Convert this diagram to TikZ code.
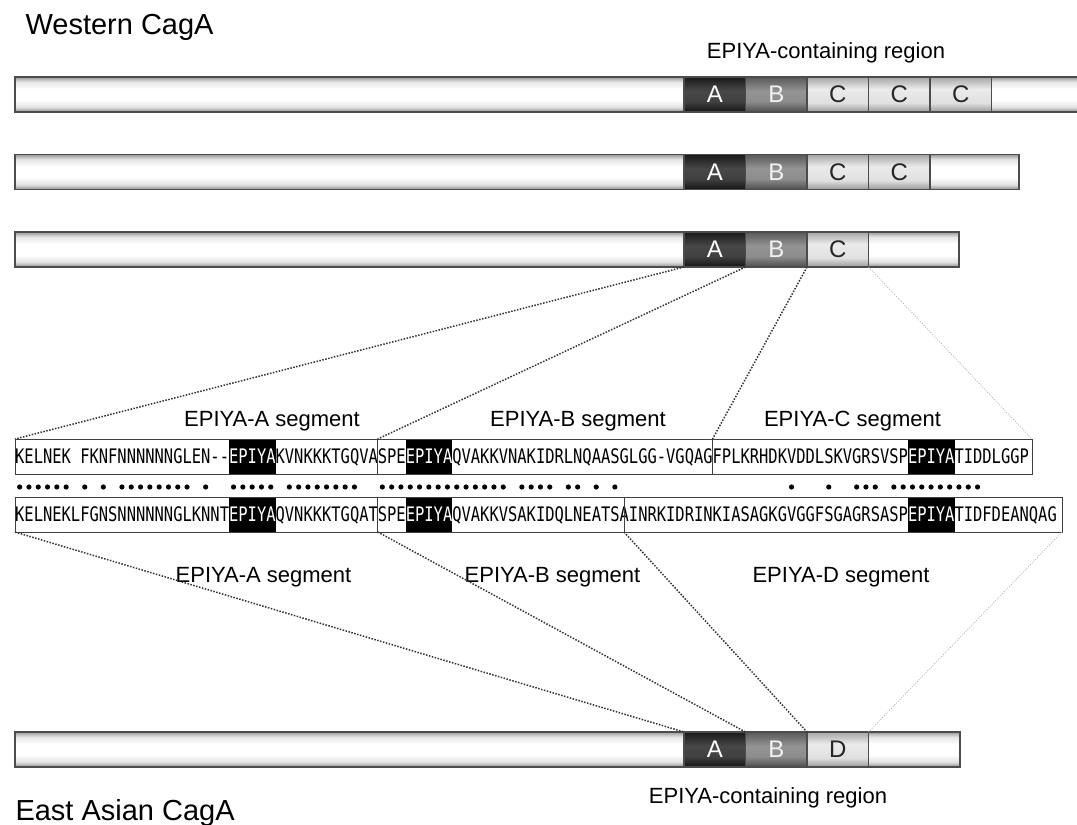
\documentclass[tikz,border=0pt]{standalone}
\usepackage{fontspec}
\setmainfont{Liberation Sans}
\newfontfamily\seqfont[FakeStretch=0.7724]{DejaVu Sans Mono}
\pgfdeclareverticalshading{bodyshade}{100bp}{color(0bp)=(black!45); color(25bp)=(black!45); color(32bp)=(black!12);
    color(42bp)=(white); color(58bp)=(white); color(68bp)=(black!10); color(75bp)=(black!40); color(100bp)=(black!40)}
\pgfdeclareverticalshading{Ashade}{100bp}{color(0bp)=(black!92); color(25bp)=(black!92); color(40bp)=(black!75);
    color(55bp)=(black!72); color(75bp)=(black!90); color(100bp)=(black!90)}
\pgfdeclareverticalshading{Bshade}{100bp}{color(0bp)=(black!70); color(25bp)=(black!70); color(40bp)=(black!45);
    color(55bp)=(black!42); color(75bp)=(black!65); color(100bp)=(black!65)}
\pgfdeclareverticalshading{Cshade}{100bp}{color(0bp)=(black!40); color(25bp)=(black!40); color(38bp)=(black!12);
    color(58bp)=(black!8); color(75bp)=(black!35); color(100bp)=(black!35)}
\tikzset{
    bar/.style={draw=black!70, line width=1.2pt, inner sep=0pt, outer sep=0pt, minimum height=35pt, anchor=west,
        shading=bodyshade},
    domA/.style={bar, minimum width=61.5pt, shading=Ashade, text=white, font=\fontsize{24}{26}\selectfont},
    domB/.style={domA, shading=Bshade, text=black!5},
    domC/.style={domA, shading=Cshade, text=black!85},
    seqbox/.style={draw=black!75, line width=1pt, inner sep=0pt, outer sep=0pt, minimum height=35pt, anchor=west},
    seqtxt/.style={inner sep=0pt, anchor=west, text height=14.5pt, text depth=0pt,
        font=\seqfont\fontsize{20}{20}\selectfont},
    epiya/.style={seqtxt, fill=black, text=white, minimum height=35pt},
    lbl/.style={anchor=base, font=\fontsize{22}{26}\selectfont},
    title/.style={anchor=base west, font=\fontsize{29}{34}\selectfont},
    link/.style={draw=black!80, line width=1.5pt, dash pattern=on 1.5pt off 1.5pt},
    faint/.style={draw=black!30, line width=0.8pt, dash pattern=on 1pt off 1.5pt}
}
\begin{document}
\begin{tikzpicture}[x=1pt, y=-1pt]
        \useasboundingbox (0,0) rectangle (1077,825);
        \node[title] (wtitle) at (22,34) {Western CagA};
        \node[lbl] (wregion) at (826,58) {EPIYA-containing region};

        \node[bar, minimum width=1066pt] (w1) at (15,94.5) {};
        \node[domA] (w1A) at (684,94.5) {A};
        \node[domB] (w1B) at (745.5,94.5) {B};
        \foreach \k/\x in {1/807, 2/868.5, 3/930}
            \node[domC] (w1C\k) at (\x,94.5) {C};

        \node[bar, minimum width=1004pt] (w2) at (15,172) {};
        \node[domA] (w2A) at (684,172) {A};
        \node[domB] (w2B) at (745.5,172) {B};
        \foreach \k/\x in {1/807, 2/868.5}
            \node[domC] (w2C\k) at (\x,172) {C};

        \node[bar, minimum width=944pt] (w3) at (15,249.5) {};
        \node[domA] (w3A) at (684,249.5) {A};
        \node[domB] (w3B) at (745.5,249.5) {B};
        \node[domC] (w3C) at (807,249.5) {C};

        \node[lbl] (tlA) at (272,426) {EPIYA-A segment};
        \node[lbl] (tlB) at (578,426) {EPIYA-B segment};
        \node[lbl] (tlC) at (852.5,426) {EPIYA-C segment};

        \node[seqtxt] (t0) at ({15+9.3*0},456.5) {KELNEK};
        \node[seqtxt] (t1) at ({15+9.3*7},456.5) {FKNFNNNNNNGLEN\mbox{-}\mbox{-}};
        \node[epiya] (tEa) at ({15+9.3*23},456.5) {EPIYA};
        \node[seqtxt] (t2) at ({15+9.3*28},456.5) {KVNKKKTGQVASPE};
        \node[epiya] (tEb) at ({15+9.3*42},456.5) {EPIYA};
        \node[seqtxt] (t3) at ({15+9.3*47},456.5) {QVAKKVNAKIDRLNQAASGLGG-VGQAGFPLKRHDKVDDLSKVGRSVSP};
        \node[epiya] (tEc) at ({15+9.3*96},456.5) {EPIYA};
        \node[seqtxt] (t4) at ({15+9.3*101},456.5) {TIDDLGGP};
        \node[seqbox, minimum width=362.7pt] (ta) at (15,456.5) {};
        \node[seqbox, minimum width=334.8pt] (tb) at (377.7,456.5) {};
        \node[seqbox, minimum width=319.5pt] (tc) at (712.5,456.5) {};

        \foreach \i in {0,1,...,5,7,9,11,12,...,18,20,23,24,...,27,29,30,...,36,39,40,...,52,54,55,56,57,59,60,62,64,83,87,90,91,92,94,95,...,103}
            \fill ({15+9.3*\i+4.65},487) circle (2.6);

        \node[seqtxt] (b0) at ({15+9.3*0},514.5) {KELNEKLFGNSNNNNNNGLKNNT};
        \node[epiya] (bEa) at ({15+9.3*23},514.5) {EPIYA};
        \node[seqtxt] (b1) at ({15+9.3*28},514.5) {QVNKKKTGQATSPE};
        \node[epiya] (bEb) at ({15+9.3*42},514.5) {EPIYA};
        \node[seqtxt] (b2) at ({15+9.3*47},514.5) {QVAKKVSAKIDQLNEATSAINRKIDRINKIASAGKGVGGFSGAGRSASP};
        \node[epiya] (bEd) at ({15+9.3*96},514.5) {EPIYA};
        \node[seqtxt] (b3) at ({15+9.3*101},514.5) {TIDFDEANQAG};
        \node[seqbox, minimum width=362.7pt] (ba) at (15,514.5) {};
        \node[seqbox, minimum width=246.3pt] (bb) at (377.7,514.5) {};
        \node[seqbox, minimum width=438pt] (bc) at (624,514.5) {};

        \node[lbl] (blA) at (263.5,582) {EPIYA-A segment};
        \node[lbl] (blB) at (552.5,582) {EPIYA-B segment};
        \node[lbl] (blD) at (841,582) {EPIYA-D segment};

        \node[bar, minimum width=945pt] (e) at (15,749.5) {};
        \node[domA] (eA) at (684,749.5) {A};
        \node[domB] (eB) at (745.5,749.5) {B};
        \node[domC] (eD) at (807,749.5) {D};

        \node[lbl] (eregion) at (768,803) {EPIYA-containing region};
        \node[title] (etitle) at (12,820) {East Asian CagA};

        \draw[link] (w3A.south west) -- (ta.north west);
        \draw[link] (w3B.south west) -- (tb.north west);
        \draw[link] (w3C.south west) -- (tc.north west);
        \draw[faint] (w3C.south east) -- (tc.north east);
        \draw[link] (ba.south west) -- (eA.north west);
        \draw[link] (bb.south west) -- (eB.north west);
        \draw[link] (bc.south west) -- (eD.north west);
        \draw[faint] (bc.south east) -- (eD.north east);
    \end{tikzpicture}
\end{document}
